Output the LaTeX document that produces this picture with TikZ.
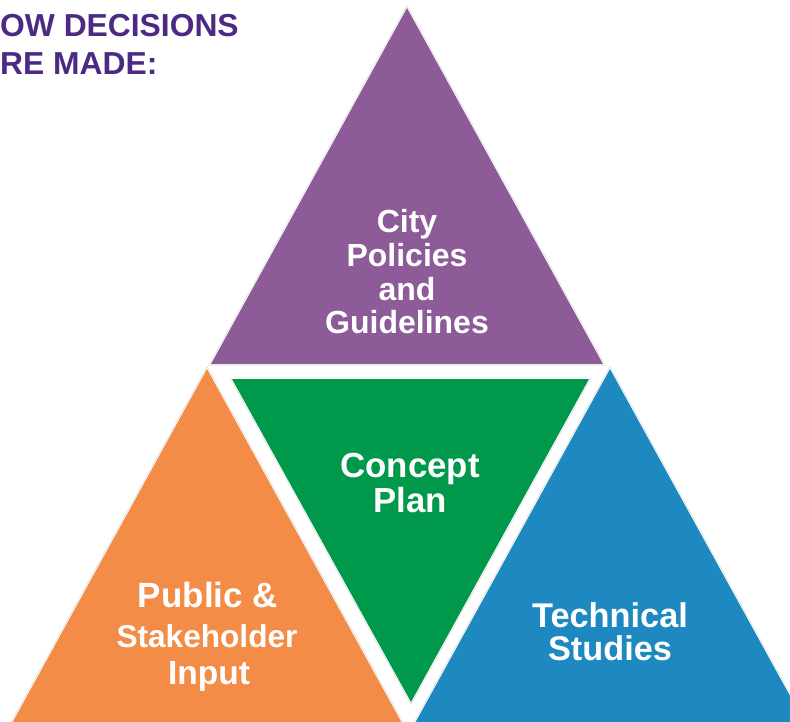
\documentclass[tikz,border=0pt]{standalone}
\usepackage{fontspec}
\setmainfont{Liberation Sans}
\definecolor{titlepurple}{HTML}{4C2A84}
\definecolor{triPurple}{HTML}{8C5B98}
\definecolor{triGreen}{HTML}{00994C}
\definecolor{triOrange}{HTML}{F28C46}
\definecolor{triBlue}{HTML}{1E88C0}
\definecolor{rim}{HTML}{DDDDDD}
\begin{document}
\begin{tikzpicture}[x=1pt,y=-1pt,
  tri/.style={fill=#1},
  halo/.style={draw=rim,line width=3pt,line join=miter},
  edge/.style={draw=white,line width=1.6pt,line join=miter},
  lbl/.style={text=white,font=\bfseries\fontsize{#1}{#1}\selectfont,inner sep=0pt,anchor=base},
  ttl/.style={text=titlepurple,font=\bfseries\fontsize{31.8}{31.8}\selectfont,inner sep=0pt,anchor=base west}]
\useasboundingbox (0,0) rectangle (790,722);
\clip (0,0) rectangle (790,722);

% corner points of the four triangles
\coordinate (pA) at (407,8);   \coordinate (pL) at (211,364); \coordinate (pR) at (603,364);
\coordinate (gL) at (232,379); \coordinate (gR) at (589,379); \coordinate (gB) at (411,702);
\coordinate (oA) at (207,369); \coordinate (oL) at (11,725);   \coordinate (oR) at (403,725);
\coordinate (bA) at (610,369); \coordinate (bL) at (414,725);  \coordinate (bR) at (806,725);

% soft rim and white edge behind each triangle
\foreach \a/\b/\c in {pA/pL/pR, gL/gR/gB, oA/oL/oR, bA/bL/bR}{
  \path[halo] (\a) -- (\b) -- (\c) -- cycle;
  \path[edge] (\a) -- (\b) -- (\c) -- cycle;
}
% triangle faces
\path[tri=triPurple] (pA) -- (pL) -- (pR) -- cycle;
\path[tri=triGreen]  (gL) -- (gR) -- (gB) -- cycle;
\path[tri=triOrange] (oA) -- (oL) -- (oR) -- cycle;
\path[tri=triBlue]   (bA) -- (bL) -- (bR) -- cycle;

% heading
\node[ttl] (title1) at (0,37) {OW DECISIONS};
\node[ttl] (title2) at (0,75) {RE MADE:};

% top triangle
\node[lbl=32] (city1) at (407,233) {City};
\node[lbl=32] (city2) at (407,266) {Policies};
\node[lbl=32] (city3) at (407,300) {and};
\node[lbl=32] (city4) at (407,333) {Guidelines};

% centre triangle
\node[lbl=34.8] (plan1) at (410,477) {Concept};
\node[lbl=34.8] (plan2) at (410,512) {Plan};

% left triangle
\node[lbl=35] (pub1) at (208,607) {Public \&};
\node[lbl=31.6] (pub2) at (207,647) {Stakeholder};
\node[lbl=33.5] (pub3) at (209,684) {Input};

% right triangle
\node[lbl=34.3] (tech1) at (610,627) {Technical};
\node[lbl=34.3] (tech2) at (610,660) {Studies};
\end{tikzpicture}
\end{document}
